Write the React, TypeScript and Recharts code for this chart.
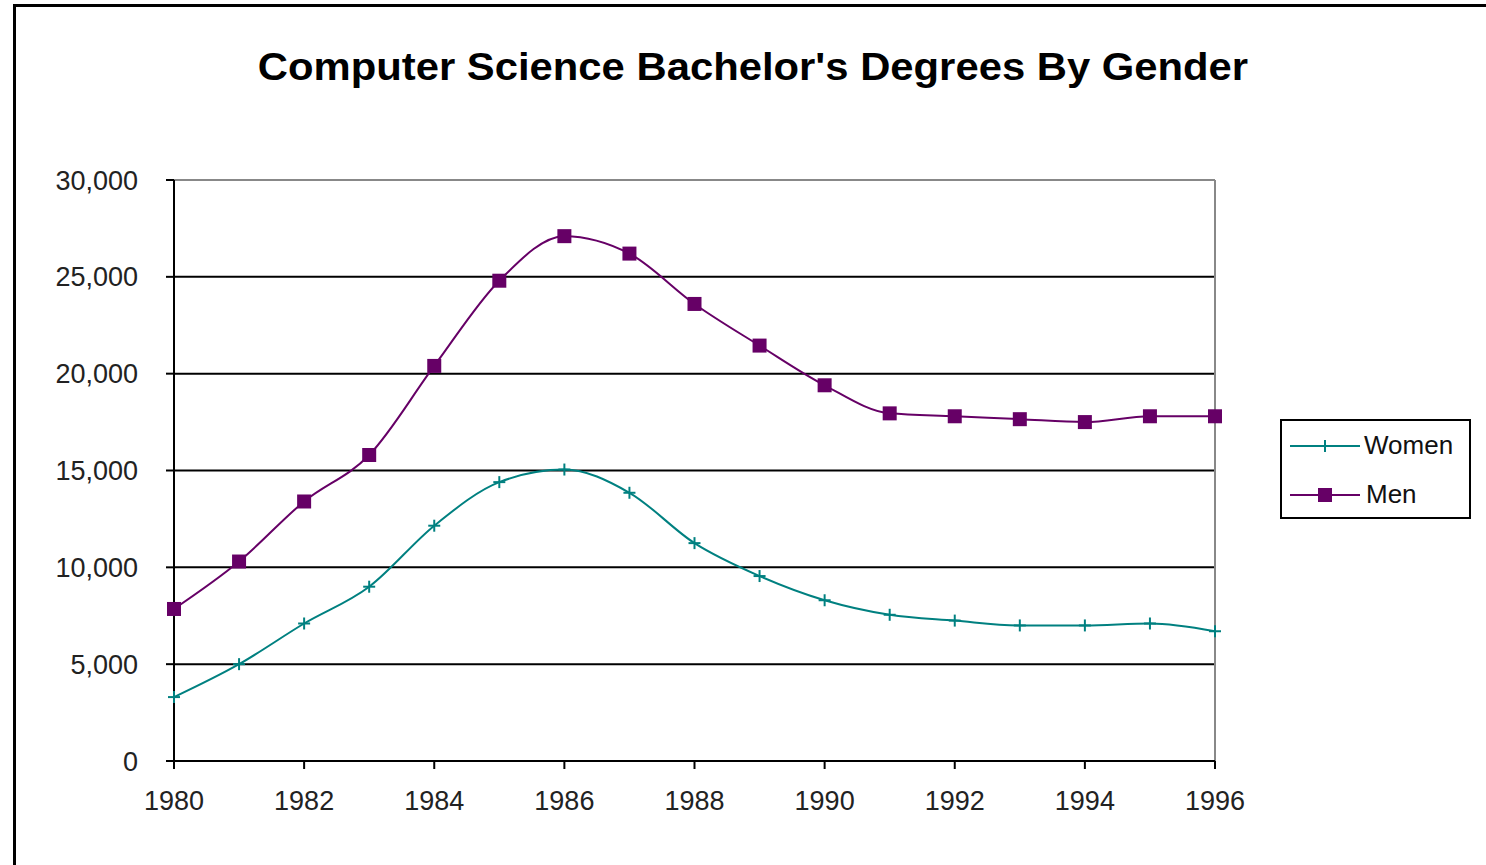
import React from "react";
import {
  LineChart, Line, XAxis, YAxis, CartesianGrid, ReferenceLine,
} from "recharts";

const years = [1980, 1981, 1982, 1983, 1984, 1985, 1986, 1987, 1988, 1989, 1990, 1991, 1992, 1993, 1994, 1995, 1996];
const women = [3300, 5000, 7100, 9000, 12150, 14400, 15050, 13850, 11250, 9550, 8300, 7550, 7250, 7000, 7000, 7100, 6700];
const men = [7850, 10300, 13400, 15800, 20400, 24800, 27100, 26200, 23600, 21450, 19400, 17950, 17800, 17650, 17500, 17800, 17800];
const xTicks = [1980, 1982, 1984, 1986, 1988, 1990, 1992, 1994, 1996];
const yTicks = [0, 5000, 10000, 15000, 20000, 25000, 30000];

const data = years.map((y, i) => ({ year: y, women: women[i], men: men[i] }));

const FONT = "'Liberation Sans', Arial, sans-serif";
const TEAL = "#008080";
const PURPLE = "#660066";

const SquareDot = (props: any) => {
  const { cx, cy } = props;
  if (cx == null || cy == null) return null;
  return <rect x={cx - 7} y={cy - 7} width={14} height={14} fill={PURPLE} />;
};

const PlusDot = (props: any) => {
  const { cx, cy } = props;
  if (cx == null || cy == null) return null;
  return (
    <g stroke={TEAL} strokeWidth={2}>
      <line x1={cx - 6} y1={cy} x2={cx + 6} y2={cy} />
      <line x1={cx} y1={cy - 6} x2={cx} y2={cy + 6} />
    </g>
  );
};

// legend drawn beside the plot, like the Excel box
const LegendBox = () => (
  <div style={{ position: "absolute", left: 1280, top: 419, width: 187, height: 96, border: "2px solid #000", background: "#fff", fontFamily: FONT, fontSize: 26, color: "#111" }}>
    <svg width={80} height={96} style={{ position: "absolute", left: 6, top: 0 }}>
      <line x1={2} y1={25} x2={72} y2={25} stroke={TEAL} strokeWidth={2} />
      <line x1={37} y1={19} x2={37} y2={31} stroke={TEAL} strokeWidth={2} />
      <line x1={2} y1={74} x2={72} y2={74} stroke={PURPLE} strokeWidth={2} />
      <rect x={30} y={67} width={14} height={14} fill={PURPLE} />
    </svg>
    <div style={{ position: "absolute", left: 82, top: 9 }}>Women</div>
    <div style={{ position: "absolute", left: 84, top: 58 }}>Men</div>
  </div>
);

export default function App() {
  return (
    <div style={{ position: "fixed", left: 0, top: 0, width: 1486, height: 865, background: "#fff", overflow: "hidden" }}>
      <div style={{ position: "absolute", left: 13, top: 4, width: 1500, height: 900, borderTop: "3px solid #000", borderLeft: "3px solid #000" }} />
      <div style={{ position: "absolute", left: 0, width: 1506, top: 46, textAlign: "center", fontFamily: FONT, fontWeight: "bold", fontSize: 38, color: "#000", transform: "scaleX(1.1)", transformOrigin: "753px 0" }}>
        Computer Science Bachelor's Degrees By Gender
      </div>
      <div style={{ position: "absolute", left: 0, top: 0 }}>
        <LineChart width={1486} height={865} data={data} margin={{ top: 180, right: 271, bottom: 44, left: 74 }}>
          <CartesianGrid vertical={false} horizontalValues={[5000, 10000, 15000, 20000, 25000]} stroke="#000" strokeWidth={2} />
          <ReferenceLine y={30000} stroke="#888" strokeWidth={2} />
          <ReferenceLine x={1996} stroke="#888" strokeWidth={2} />
          <XAxis
            dataKey="year"
            type="number"
            domain={[1980, 1996]}
            ticks={xTicks}
            height={60}
            stroke="#000"
            strokeWidth={2}
            tickSize={8}
            tickMargin={22}
            tick={{ fontSize: 27, fill: "#222", fontFamily: FONT }}
          />
          <YAxis
            domain={[0, 30000]}
            ticks={yTicks}
            width={100}
            stroke="#000"
            strokeWidth={2}
            tickSize={8}
            tickMargin={28}
            tick={{ fontSize: 27, fill: "#222", fontFamily: FONT }}
            tickFormatter={(v: number) => v.toLocaleString("en-US")}
          />
          <Line type="monotone" dataKey="women" name="Women" stroke={TEAL} strokeWidth={2} dot={<PlusDot />} isAnimationActive={false} />
          <Line type="monotone" dataKey="men" name="Men" stroke={PURPLE} strokeWidth={2} dot={<SquareDot />} isAnimationActive={false} />
        </LineChart>
      </div>
      <LegendBox />
    </div>
  );
}
